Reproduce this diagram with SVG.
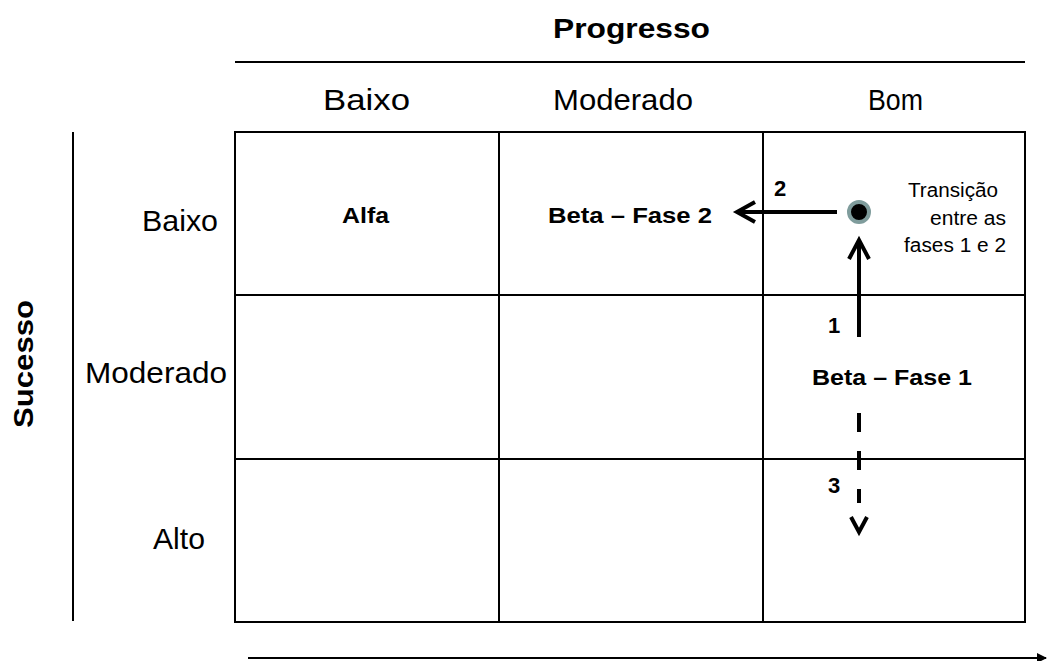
<svg xmlns="http://www.w3.org/2000/svg" width="1056" height="661" viewBox="0 0 1056 661">
<defs>
<style>
.t{font-family:"Liberation Sans",Arial,sans-serif;fill:#000}
.h{font-size:29px}
.b{font-weight:bold}
.m{font-size:22px;font-weight:bold}
.s{font-size:20px}
.n{font-size:22px;font-weight:bold}
.cell{fill:#fff;stroke:#000;stroke-width:2}
.ar{stroke:#000;stroke-width:4;fill:none}
.ch{stroke:#000;stroke-width:4;fill:none;stroke-linecap:butt;stroke-linejoin:miter}
</style>
<marker id="tri" viewBox="0 0 10 10" refX="9" refY="5" markerWidth="5" markerHeight="5" orient="auto"><path d="M0,0 L10,5 L0,10 z" fill="#000"/></marker>
</defs>
<rect width="1056" height="661" fill="#fff"/>
<g id="axes">
<line x1="235" y1="62" x2="1025" y2="62" stroke="#000" stroke-width="2"/>
<text class="t b" font-size="28" x="553" y="38" textLength="157" lengthAdjust="spacingAndGlyphs">Progresso</text>
<line x1="73" y1="132" x2="73" y2="621" stroke="#000" stroke-width="2"/>
<text class="t b" font-size="28" transform="translate(33,428) rotate(-90)" textLength="128" lengthAdjust="spacingAndGlyphs">Sucesso</text>
<text class="t h" x="323" y="110" textLength="87" lengthAdjust="spacingAndGlyphs">Baixo</text>
<text class="t h" x="553" y="110" textLength="140" lengthAdjust="spacingAndGlyphs">Moderado</text>
<text class="t h" x="868" y="110" textLength="55" lengthAdjust="spacingAndGlyphs">Bom</text>
<text class="t h" x="142" y="231" textLength="76" lengthAdjust="spacingAndGlyphs">Baixo</text>
<text class="t h" x="85" y="383" textLength="142" lengthAdjust="spacingAndGlyphs">Moderado</text>
<text class="t h" x="153" y="549" textLength="52" lengthAdjust="spacingAndGlyphs">Alto</text>
<line x1="248" y1="658" x2="1046" y2="658" stroke="#000" stroke-width="2" marker-end="url(#tri)"/>
</g>
<g id="grid">
<rect class="cell" x="235" y="132" width="790" height="490"/>
<line x1="499" y1="132" x2="499" y2="622" stroke="#000" stroke-width="2"/>
<line x1="763" y1="132" x2="763" y2="622" stroke="#000" stroke-width="2"/>
<line x1="235" y1="295" x2="1025" y2="295" stroke="#000" stroke-width="2"/>
<line x1="235" y1="459" x2="1025" y2="459" stroke="#000" stroke-width="2"/>
</g>
<g id="alfa"><text class="t m" x="342" y="223" textLength="47" lengthAdjust="spacingAndGlyphs">Alfa</text></g>
<g id="beta2"><text class="t m" x="548" y="223" textLength="164" lengthAdjust="spacingAndGlyphs">Beta – Fase 2</text></g>
<g id="beta1"><text class="t m" x="812" y="385" textLength="160" lengthAdjust="spacingAndGlyphs">Beta – Fase 1</text></g>
<g id="transicao">
<circle cx="859" cy="212" r="10" fill="#000" stroke="#7f9c9c" stroke-width="4"/>
<text class="t s" x="908" y="197" textLength="90" lengthAdjust="spacingAndGlyphs">Transição</text>
<text class="t s" x="930" y="225" textLength="76" lengthAdjust="spacingAndGlyphs">entre as</text>
<text class="t s" x="904" y="252" textLength="102" lengthAdjust="spacingAndGlyphs">fases 1 e 2</text>
</g>
<g id="connectors">
<line class="ar" x1="837" y1="212" x2="737" y2="212"/>
<polyline class="ch" points="755,202 737,212 755,222"/>
<text class="t n" x="774" y="196">2</text>
<line class="ar" x1="859" y1="337" x2="859" y2="240"/>
<polyline class="ch" points="849,259 859,240 869,259"/>
<text class="t n" x="828" y="333">1</text>
<line class="ar" x1="859" y1="413" x2="859" y2="503" stroke-dasharray="19,19"/>
<polyline class="ch" points="851,517 859,532 867,517"/>
<text class="t n" x="828" y="493">3</text>
</g>
</svg>
